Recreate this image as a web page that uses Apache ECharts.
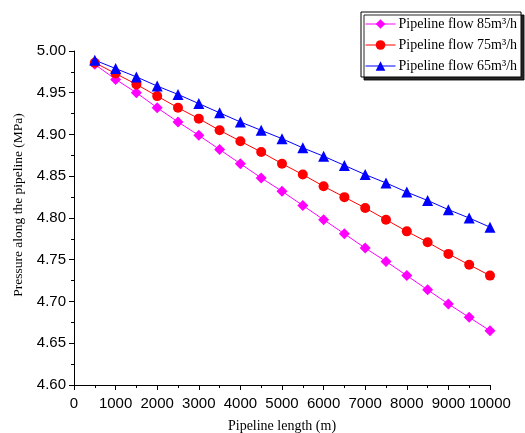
<!DOCTYPE html>
<html>
<head>
<meta charset="utf-8">
<script src="https://cdn.jsdelivr.net/npm/echarts@6/dist/echarts.min.js"></script>
<style>
html, body { margin: 0; padding: 0; background: #fff; }
#main { width: 525px; height: 433px; }
</style>
</head>
<body>
<div id="main"></div>
<script>
// 沿线长度 (m)
var lengths = [500, 1000, 1500, 2000, 2500, 3000, 3500, 4000, 4500, 5000,
               5500, 6000, 6500, 7000, 7500, 8000, 8500, 9000, 9500, 10000];
// 各流量下的沿线压力 (MPa)
var flow85 = [4.984, 4.966, 4.950, 4.932, 4.915, 4.899, 4.882, 4.865, 4.848, 4.832,
              4.815, 4.798, 4.781, 4.764, 4.748, 4.731, 4.714, 4.697, 4.681, 4.665];
var flow75 = [4.986, 4.973, 4.960, 4.946, 4.932, 4.919, 4.905, 4.892, 4.879, 4.865,
              4.852, 4.838, 4.825, 4.812, 4.798, 4.784, 4.771, 4.757, 4.744, 4.731];
var flow65 = [4.989, 4.979, 4.969, 4.958, 4.948, 4.937, 4.926, 4.915, 4.905, 4.895,
              4.884, 4.874, 4.863, 4.852, 4.842, 4.831, 4.821, 4.810, 4.800, 4.789];
var seriesNames = ['Pipeline flow 85m³/h', 'Pipeline flow 75m³/h', 'Pipeline flow 65m³/h'];

function pairs(ys) {
    return lengths.map(function (x, i) { return [x, ys[i]]; });
}

var axisFont = { fontFamily: 'Liberation Sans', fontSize: 15, color: '#000' };

var option = {
    animation: false,
    grid: {
        left: 74,
        right: 35,
        top: 51,
        bottom: 48,
        containLabel: false,
        outerBoundsMode: 'none'
    },
    legend: {
        orient: 'vertical',
        left: 361,
        top: 12,
        padding: [5, 4, 4, 4],
        itemGap: 7,
        itemWidth: 30,
        itemHeight: 12,
        backgroundColor: '#fff',
        borderColor: '#000',
        borderWidth: 1,
        borderRadius: 0,
        shadowColor: 'rgba(0,0,0,0.85)',
        shadowOffsetX: 3,
        shadowOffsetY: 3,
        shadowBlur: 0,
        lineStyle: { width: 1 },
        textStyle: { fontFamily: 'Liberation Serif', fontSize: 14, color: '#000', padding: [0, 0, 0, -2] },
        data: seriesNames
    },
    xAxis: {
        type: 'value',
        min: 0,
        max: 10000,
        interval: 1000,
        name: 'Pipeline length (m)',
        nameLocation: 'middle',
        nameGap: 34,
        nameTextStyle: { fontFamily: 'Liberation Serif', fontSize: 14, color: '#000' },
        axisLine: { show: true, lineStyle: { color: '#000', width: 1 } },
        axisTick: { show: true, inside: false, length: 5, lineStyle: { color: '#000' } },
        minorTick: { show: true, splitNumber: 2, length: 3, lineStyle: { color: '#000' } },
        axisLabel: Object.assign({ margin: 11, formatter: function (v) { return String(v); } }, axisFont),
        splitLine: { show: false }
    },
    yAxis: {
        type: 'value',
        min: 4.60,
        max: 5.00,
        interval: 0.05,
        name: 'Pressure along the pipeline (MPa)',
        nameLocation: 'middle',
        nameGap: 48,
        nameTextStyle: { fontFamily: 'Liberation Serif', fontSize: 13.5, color: '#000', padding: [0, 0, 0, 26] },
        axisLine: { show: true, lineStyle: { color: '#000', width: 1 } },
        axisTick: { show: true, inside: false, length: 5, lineStyle: { color: '#000' } },
        minorTick: { show: true, splitNumber: 2, length: 3, lineStyle: { color: '#000' } },
        axisLabel: Object.assign({ margin: 8, formatter: function (v) { return v.toFixed(2); } }, axisFont),
        splitLine: { show: false }
    },
    series: [
        {
            name: seriesNames[0],
            type: 'line',
            data: pairs(flow85),
            symbol: 'diamond',
            symbolSize: 11,
            color: '#FF00FF',
            lineStyle: { width: 1, color: '#FF00FF' }
        },
        {
            name: seriesNames[1],
            type: 'line',
            data: pairs(flow75),
            symbol: 'circle',
            symbolSize: 10,
            color: '#FF0000',
            lineStyle: { width: 1, color: '#FF0000' }
        },
        {
            name: seriesNames[2],
            type: 'line',
            data: pairs(flow65),
            symbol: 'triangle',
            symbolSize: 11,
            color: '#0000FF',
            lineStyle: { width: 1, color: '#0000FF' }
        }
    ]
};

var myChart = echarts.init(document.getElementById('main'));
myChart.setOption(option);
</script>
</body>
</html>
